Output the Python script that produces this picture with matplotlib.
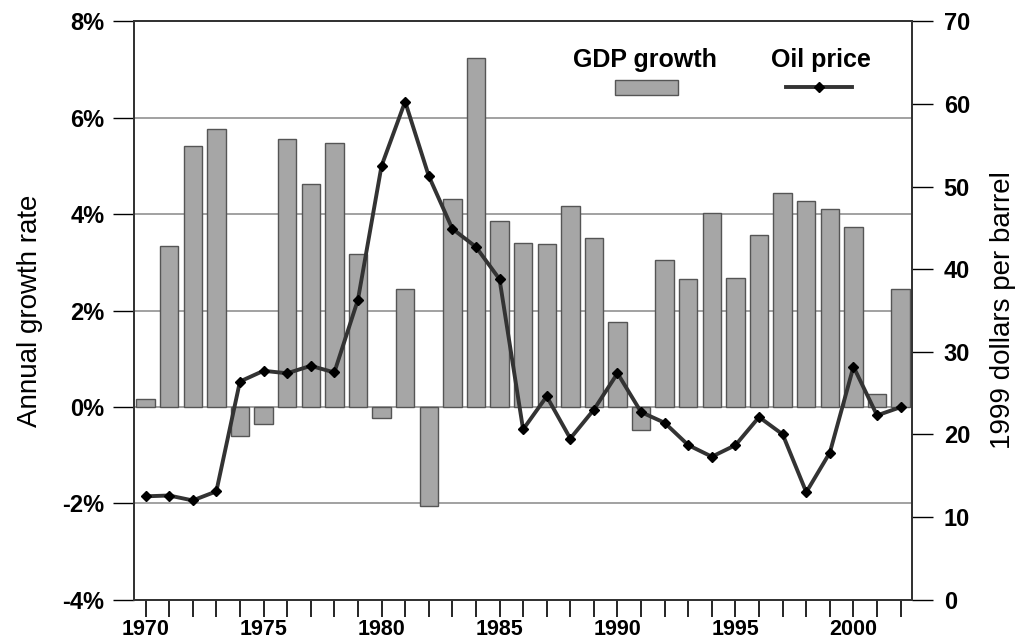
import matplotlib.pyplot as plt
import numpy as np
from matplotlib.patches import Rectangle
from matplotlib.lines import Line2D

plt.rcParams['font.family'] = ['Liberation Sans', 'DejaVu Sans']

years = np.arange(1970, 2003)
gdp_growth = [0.16, 3.34, 5.41, 5.76, -0.60, -0.36, 5.57, 4.63, 5.48, 3.17,
              -0.24, 2.45, -2.05, 4.32, 7.25, 3.85, 3.41, 3.39, 4.17, 3.51,
              1.76, -0.48, 3.05, 2.65, 4.03, 2.68, 3.57, 4.43, 4.28, 4.10,
              3.74, 0.26, 2.45]
oil_price = [12.5, 12.6, 12.0, 13.1, 26.4, 27.7, 27.4, 28.3, 27.5, 36.3,
             52.5, 60.3, 51.3, 44.9, 42.7, 38.8, 20.6, 24.6, 19.5, 23.0,
             27.4, 22.7, 21.4, 18.7, 17.3, 18.7, 22.1, 20.0, 13.0, 17.8,
             28.2, 22.3, 23.3]

left_ticks = [-4, -2, 0, 2, 4, 6, 8]
right_ticks = [0, 10, 20, 30, 40, 50, 60, 70]
year_labels = [1970, 1975, 1980, 1985, 1990, 1995, 2000]

fig = plt.figure(figsize=(10.21, 6.44), dpi=100)
ax = fig.add_axes([0.131, 0.069, 0.762, 0.8977])

ax.bar(years, gdp_growth, width=0.78, color='#a6a6a6', edgecolor='#555555',
       linewidth=1.0, zorder=3)
ax.set_ylim(-4, 8)
ax.set_xlim(1969.5, 2002.47)
ax.set_yticks(left_ticks)
ax.set_yticklabels([f"{t}%" for t in left_ticks], fontsize=17, fontweight='bold')
for t in left_ticks[1:-1]:
    ax.axhline(t, color='#9a9a9a', linewidth=1.3, zorder=1)

ax.set_xticks(years)
ax.set_xticklabels([str(y) if y in year_labels else '' for y in years],
                   fontsize=15.5, fontweight='bold')
ax.tick_params(axis='x', direction='out', length=12, width=1.2, pad=2)
ax.tick_params(axis='y', direction='out', length=15, width=1.0, pad=6)
ax.set_ylabel('Annual growth rate', fontsize=20, labelpad=14)

ax2 = ax.twinx()
ax2.plot(years, oil_price, color='#333333', linewidth=2.8, marker='D',
         markersize=5, markerfacecolor='black', markeredgecolor='black', zorder=4)
ax2.set_ylim(0, 70)
ax2.set_yticks(right_ticks)
ax2.set_yticklabels([str(t) for t in right_ticks], fontsize=17, fontweight='bold')
ax2.tick_params(axis='y', direction='out', length=15, width=1.0, pad=8)
ax2.set_ylabel('1999 dollars per barrel', fontsize=20, labelpad=14)

for a in (ax, ax2):
    for s in a.spines.values():
        s.set_color('#333333')
        s.set_linewidth(1.3)

# legend: label above the key
ax.text(0.657, 0.934, 'GDP growth', transform=ax.transAxes, ha='center',
        va='center', fontsize=18, fontweight='bold', zorder=6)
ax.add_patch(Rectangle((0.618, 0.872), 0.081, 0.027, transform=ax.transAxes,
                       facecolor='#a6a6a6', edgecolor='#555555', linewidth=1.0,
                       zorder=6))
ax2.text(0.883, 0.934, 'Oil price', transform=ax2.transAxes, ha='center',
         va='center', fontsize=18, fontweight='bold')
ax2.add_line(Line2D([0.839, 0.923], [0.887, 0.887], transform=ax2.transAxes,
                    color='#333333', linewidth=2.8))
ax2.add_line(Line2D([0.881], [0.887], transform=ax2.transAxes, marker='D',
                    markersize=5, color='black'))

plt.savefig('out.png', dpi=100)
